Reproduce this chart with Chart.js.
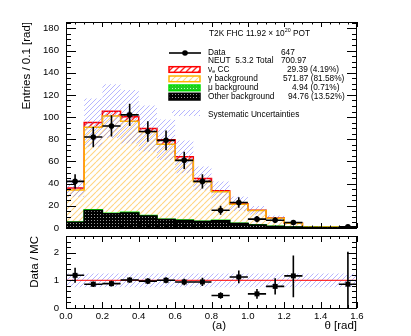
<!DOCTYPE html>
<html><head><meta charset="utf-8">
<script src="https://cdn.jsdelivr.net/npm/chart.js@4.4.0/dist/chart.umd.min.js"></script>
<style>
html,body{margin:0;padding:0;background:#fff;}
#wrap{position:relative;width:411px;height:336px;background:#fff;overflow:hidden;}
canvas{position:absolute;left:0;}
#c1{top:0;z-index:1;} #c2{top:232px;z-index:2;}
</style></head><body>
<div id="wrap"><canvas id="c1" width="411" height="238"></canvas><canvas id="c2" width="411" height="104"></canvas></div>
<script>
const FONT = '"Liberation Sans", Arial, Helvetica, sans-serif';

// ---- data ----
const binEdges   = [0.0,0.1,0.2,0.3,0.4,0.5,0.6,0.7,0.8,0.9,1.0,1.1,1.2,1.3,1.4,1.5,1.6];
const dataCounts = [42,82,92,102,87,79,61,42,16,23,8,7,5,0,0,1];
const dataErr    = [6.5,9.1,9.6,10.1,9.3,8.9,7.8,6.5,4.0,4.8,2.8,2.6,2.2,0,0,1.0];
const nueCC      = [1.8,4.2,4.3,4.0,3.0,4.0,3.2,3.0,1.0,0.5,0.3,0.2,0.1,0.1,0.1,0.1];
const gammaBkg   = [28.7,74.4,87.7,82.2,75.4,67.5,53.8,35.6,25.6,17.0,12.7,7.3,3.3,0.6,0.55,0.81];
const muBkg      = [0.3,0.6,0.5,0.5,0.5,0.4,0.4,0.3,0.4,0.3,0.2,0.2,0.1,0.1,0.05,0.05];
const otherBkg   = [5.2,15.8,12.8,13.6,10.8,7.6,6.8,5.8,6.6,4.0,2.8,1.3,0.8,0.4,0.3,0.2];
const systRel    = [0.22,0.23,0.23,0.24,0.23,0.23,0.23,0.24,0.25,0.30,0.24,0.24,0.25,0.25,0.25,0.25];
const ratioVals  = [1.18,0.86,0.88,1.01,0.97,1.00,0.94,0.94,0.45,1.12,0.51,0.78,1.16,null,null,0.86];
const ratioErrLo = [0.27,0.10,0.10,0.10,0.10,0.11,0.12,0.15,0.12,0.23,0.18,0.29,0.77,0,0,0.86];
const ratioErrHi = [0.27,0.10,0.10,0.10,0.10,0.11,0.12,0.15,0.12,0.23,0.18,0.29,0.74,0,0,1.17];
const ratioBand  = [0.25,0.25,0.25,0.25,0.25,0.25,0.25,0.25,0.25,0.25,0.25,0.25,0.25,0.25,0.25,0.25];
const yTicksTop   = [0,20,40,60,80,100,120,140,160,180];
const yTicksRatio = [0,1,2];
const xTicks      = [0,0.2,0.4,0.6,0.8,1.0,1.2,1.4,1.6];
const xTickLabels = ['0.0','0.2','0.4','0.6','0.8','1.0','1.2','1.4','1.6'];
const headerMain = 'T2K FHC 11.92 \u00d7 10', headerSup = '20', headerTail = ' POT';
const legendNames  = ['Data','NEUT  5.3.2 Total','\u03bd|e| CC','\u03b3 background','\u03bc background','Other background','Systematic Uncertainties'];
const legendValues = ['647','700.97','29.39 (4.19%)','571.87 (81.58%)','4.94 (0.71%)','94.76 (13.52%)'];

// ---- derived tables ----
const binCenters = binCenterList();
function binCenterList(){ const c=[]; for(let i=0;i<binEdges.length-1;i++) c.push((binEdges[i]+binEdges[i+1])/2); return c; }
const cumOther = otherBkg.slice();
const cumMu = cumOther.map((v,i)=>v+muBkg[i]);
const cumGamma = cumMu.map((v,i)=>v+gammaBkg[i]);
const cumTotal = cumGamma.map((v,i)=>v+nueCC[i]);
const bandHi = cumTotal.map((v,i)=>v*(1+systRel[i]));
const bandLo = cumTotal.map((v,i)=>v*(1-systRel[i]));
const rBandHi = ratioBand.map(r=>1+r), rBandLo = ratioBand.map(r=>1-r);
function hist(vals){ const p = vals.map((v,i)=>({x:binEdges[i], y:v})); p.push({x:binEdges[vals.length], y:vals[vals.length-1]}); return p; }
const dataPts = binCenters.map((c,i)=>({x:c, y: dataCounts[i]>0 ? dataCounts[i] : null}));
const ratioPts = binCenters.map((c,i)=>({x:c, y: ratioVals[i]}));

// ---- patterns ----
function hatch(color, lw, size, bg){
  const c=document.createElement('canvas'); c.width=size; c.height=size;
  const g=c.getContext('2d');
  if(bg){ g.fillStyle=bg; g.fillRect(0,0,size,size); }
  g.strokeStyle=color; g.lineWidth=lw; g.beginPath();
  for(let k=-1;k<=1;k++){ g.moveTo(k*size,size); g.lineTo(k*size+size,0); }
  g.stroke();
  return g.createPattern(c,'repeat');
}
function dotted(bg, fg, w, h, pts){
  const c=document.createElement('canvas'); c.width=w; c.height=h;
  const g=c.getContext('2d'); g.fillStyle=bg; g.fillRect(0,0,w,h);
  g.fillStyle=fg; pts.forEach(p=>g.fillRect(p[0],p[1],1,1));
  return g.createPattern(c,'repeat');
}
const patRed = hatch('#ff2020',1.4,6,null);
const patYellow = hatch('rgba(255,200,90,0.75)',1.1,6,null);
const patBlue = hatch('rgba(110,110,255,0.5)',1.0,5,null);
const patGreen = dotted('#22cc22','#b8ffb8',3,3,[[1,1]]);
const patBlack = dotted('#000000','#9a9a9a',3,3,[[1,1]]);

// ---- plugins ----
const errBars = {
  id:'errBars',
  beforeDatasetDraw(chart, args){
    const ds = chart.data.datasets[args.index];
    if(!ds.errLo) return;
    const xs=chart.scales.x, ys=chart.scales.y, ctx=chart.ctx, a=chart.chartArea;
    ctx.save(); ctx.beginPath(); ctx.rect(a.left,a.top,a.right-a.left,a.bottom-a.top); ctx.clip();
    ctx.strokeStyle='#000'; ctx.lineWidth=1.6; ctx.beginPath();
    ds.data.forEach((p,i)=>{
      if(p.y===null||p.y===undefined) return;
      const px=xs.getPixelForValue(p.x), py=ys.getPixelForValue(p.y);
      ctx.moveTo(px, ys.getPixelForValue(p.y-ds.errLo[i])); ctx.lineTo(px, ys.getPixelForValue(p.y+ds.errHi[i]));
      ctx.moveTo(xs.getPixelForValue(p.x-0.05), py); ctx.lineTo(xs.getPixelForValue(p.x+0.05), py);
    });
    ctx.stroke(); ctx.restore();
  }
};
const rootFrame = {
  id:'rootFrame',
  afterDraw(chart, args, o){
    const {ctx, chartArea:a} = chart; const xs=chart.scales.x, ys=chart.scales.y;
    ctx.save(); ctx.strokeStyle='#000'; ctx.lineWidth=1; ctx.beginPath();
    for(let k=0;k<=32;k++){
      const v=k*0.05, len = (k%4===0)?o.xMaj:o.xMin;
      const px=Math.round(xs.getPixelForValue(v))+0.5;
      ctx.moveTo(px,a.bottom); ctx.lineTo(px,a.bottom-len);
      ctx.moveTo(px,a.top); ctx.lineTo(px,a.top+len);
    }
    for(let k=0;;k++){
      const v=k*o.yStep; if(v>ys.max+1e-9) break;
      const len=(k%o.yPer===0)?o.yMaj:o.yMin;
      const py=Math.round(ys.getPixelForValue(v))+0.5;
      ctx.moveTo(a.left,py); ctx.lineTo(a.left+len,py);
      ctx.moveTo(a.right,py); ctx.lineTo(a.right-len,py);
    }
    ctx.stroke();
    ctx.strokeRect(Math.round(a.left)+0.5, Math.round(a.top)+0.5, Math.round(a.right-a.left)-1, Math.round(a.bottom-a.top));
    ctx.restore();
  }
};
const rootLegend = {
  id:'rootLegend',
  afterDraw(chart){
    const ctx=chart.ctx; ctx.save();
    ctx.fillStyle='#000'; ctx.textBaseline='middle'; ctx.textAlign='left';
    const F=s=>s+'px '+FONT;
    ctx.font=F(8.3); let x=209, y=33.3;
    ctx.fillText(headerMain,x,y); x+=ctx.measureText(headerMain).width;
    ctx.font=F(5.3); ctx.fillText(headerSup,x,y-3); x+=ctx.measureText(headerSup).width;
    ctx.font=F(8.3); ctx.fillText(headerTail,x,y);
    const rowY=[53,61,69.6,78.5,87.5,96.7,115];
    const valX=[281,281,287,283,292,288];
    legendNames.forEach((n,i)=>{
      ctx.font=F(8.3);
      if(n.indexOf('|')>=0){
        const parts=n.split('|'); let xx=208;
        ctx.fillText(parts[0],xx,rowY[i]); xx+=ctx.measureText(parts[0]).width;
        ctx.font=F(5.5); ctx.fillText(parts[1],xx,rowY[i]+2); xx+=ctx.measureText(parts[1]).width;
        ctx.font=F(8.3); ctx.fillText(parts[2],xx,rowY[i]);
      } else ctx.fillText(n,208,rowY[i]);
      if(i<legendValues.length) ctx.fillText(legendValues[i],valX[i],rowY[i]);
    });
    ctx.strokeStyle='#000'; ctx.lineWidth=1.6; ctx.beginPath(); ctx.moveTo(169,53); ctx.lineTo(201,53); ctx.stroke();
    ctx.beginPath(); ctx.arc(185,53,2.8,0,Math.PI*2); ctx.fill();
    const boxes=[[169,66.7,31,5.6,patRed,'#ff0000'],[169,76,31,5.7,patYellow,'#ffb400'],[169,85,31,5.7,patGreen,'#00dd00'],[169,93.3,31,6.7,patBlack,'#000']];
    boxes.forEach(b=>{ ctx.fillStyle=b[4]; ctx.fillRect(b[0],b[1],b[2],b[3]); ctx.strokeStyle=b[5]; ctx.lineWidth=1.5; ctx.strokeRect(b[0],b[1],b[2],b[3]); });
    ctx.fillStyle=patBlue; ctx.fillRect(172,110,28,6);
    ctx.restore();
  }
};
const bottomText = {
  id:'bottomText',
  afterDraw(chart){
    const ctx=chart.ctx; ctx.save(); ctx.fillStyle='#000'; ctx.textBaseline='middle';
    ctx.font='11.5px '+FONT; ctx.textAlign='center'; ctx.fillText('(a)',219,94);
    ctx.textAlign='right'; ctx.fillText('\u03b8 [rad]',357,94);
    ctx.restore();
  }
};

Chart.defaults.font.family = FONT;
const noPad = s => { s.paddingTop=0; s.paddingBottom=0; s.paddingLeft=0; s.paddingRight=0; };
const lineBase = {stepped:true, pointRadius:0, borderWidth:1.5};

new Chart(document.getElementById('c1'), {
  type:'line',
  data:{datasets:[
    Object.assign({label:'Other background', data:hist(cumOther), fill:'origin', backgroundColor:patBlack, borderColor:'#000', order:2}, lineBase),
    Object.assign({label:'\u03bc background', data:hist(cumMu), fill:'-1', backgroundColor:patGreen, borderColor:'#00dd00', order:3}, lineBase),
    Object.assign({label:'\u03b3 background', data:hist(cumGamma), fill:'-1', backgroundColor:patYellow, borderColor:'#ffb400', order:4}, lineBase),
    Object.assign({label:'\u03bde CC', data:hist(cumTotal), fill:'-1', backgroundColor:patRed, borderColor:'#ff0000', order:5}, lineBase),
    Object.assign({label:'syst lo', data:hist(bandLo), fill:false, borderColor:'rgba(0,0,0,0)', order:1}, lineBase, {borderWidth:1}),
    Object.assign({label:'Systematic Uncertainties', data:hist(bandHi), fill:'-1', backgroundColor:patBlue, borderColor:'rgba(0,0,0,0)', order:1}, lineBase, {borderWidth:1}),
    {label:'Data', data:dataPts, showLine:false, pointRadius:2.8, pointBackgroundColor:'#000', pointBorderColor:'#000', pointBorderWidth:0, errLo:dataErr, errHi:dataErr, order:0}
  ]},
  options:{
    responsive:false, animation:false, events:[],
    layout:{padding:{left:0,right:54,top:22,bottom:10}},
    plugins:{legend:{display:false}, tooltip:{enabled:false},
      rootFrame:{xMaj:5,xMin:2.5,yStep:5,yPer:4,yMaj:10,yMin:5}},
    scales:{
      x:{type:'linear', min:0, max:1.6, display:false},
      y:{type:'linear', min:0, max:185.7,
        afterBuildTicks:s=>{ s.ticks=yTicksTop.map(v=>({value:v})); },
        afterFit:s=>{ s.width=66; noPad(s); },
        grid:{display:false, drawTicks:false}, border:{display:false},
        ticks:{color:'#000', font:{size:9.6}, padding:7, callback:v=>String(v)},
        title:{display:true, text:'Entries / 0.1 [rad]', align:'end', color:'#000', font:{size:11.5}, padding:{top:20,bottom:0}}
      }
    }
  },
  plugins:[errBars, rootFrame, rootLegend]
});

new Chart(document.getElementById('c2'), {
  type:'line',
  data:{datasets:[
    Object.assign({label:'band lo', data:hist(rBandLo), fill:false, borderColor:'rgba(0,0,0,0)', order:3}, lineBase, {borderWidth:1}),
    Object.assign({label:'band hi', data:hist(rBandHi), fill:'-1', backgroundColor:patBlue, borderColor:'rgba(0,0,0,0)', order:3}, lineBase, {borderWidth:1}),
    {label:'unity', data:[{x:0,y:1},{x:1.6,y:1}], borderColor:'#ff0000', borderWidth:1, pointRadius:0, fill:false, order:2},
    {label:'Data / MC', data:ratioPts, showLine:false, pointStyle:'rect', pointRadius:3.5, pointBackgroundColor:'#000', pointBorderColor:'#000', pointBorderWidth:0, errLo:ratioErrLo, errHi:ratioErrHi, order:0}
  ]},
  options:{
    responsive:false, animation:false, events:[],
    layout:{padding:{left:0,right:54,top:3,bottom:0}},
    plugins:{legend:{display:false}, tooltip:{enabled:false},
      rootFrame:{xMaj:6,xMin:3,yStep:0.2,yPer:5,yMaj:10,yMin:5}},
    scales:{
      x:{type:'linear', min:0, max:1.6,
        afterBuildTicks:s=>{ s.ticks=xTicks.map(v=>({value:v})); },
        afterFit:s=>{ s.height=28; noPad(s); },
        grid:{display:false, drawTicks:false}, border:{display:false},
        ticks:{color:'#000', font:{size:9.6}, padding:3, maxRotation:0, autoSkip:false, callback:(v,i)=>xTickLabels[i]}
      },
      y:{type:'linear', min:0, max:2.6,
        afterBuildTicks:s=>{ s.ticks=yTicksRatio.map(v=>({value:v})); },
        afterFit:s=>{ s.width=66; noPad(s); },
        grid:{display:false, drawTicks:false}, border:{display:false},
        ticks:{color:'#000', font:{size:9.6}, padding:7, callback:v=>String(v)},
        title:{display:true, text:'Data / MC', align:'end', color:'#000', font:{size:11.5}, padding:{top:28,bottom:0}}
      }
    }
  },
  plugins:[errBars, rootFrame, bottomText]
});
</script>
</body></html>
